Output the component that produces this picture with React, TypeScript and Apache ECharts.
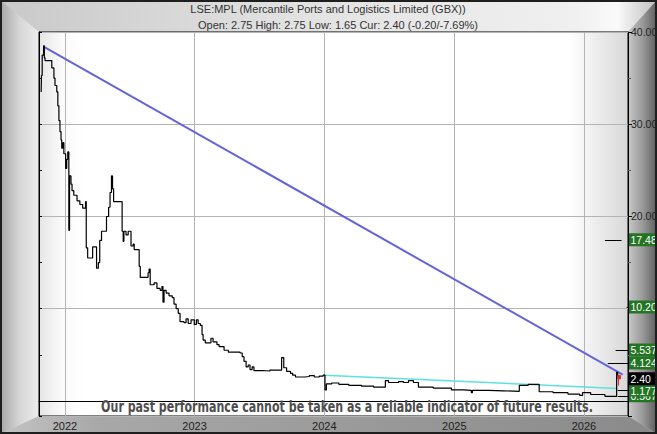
import React, { useEffect, useRef } from 'react';
import * as echarts from 'echarts';

// ---------- data ----------
const priceDates = [
  '2021-10-26', '2021-10-27', '2021-10-29', '2021-11-02', '2021-11-04', '2021-11-06', '2021-11-25',
  '2021-12-01', '2021-12-04', '2021-12-09', '2021-12-12', '2021-12-15', '2021-12-18', '2021-12-21',
  '2021-12-23', '2021-12-26', '2021-12-29', '2022-01-03', '2022-01-06', '2022-01-09', '2022-01-12',
  '2022-01-14', '2022-01-18', '2022-01-21', '2022-01-26', '2022-02-04', '2022-02-12', '2022-02-20',
  '2022-02-28', '2022-03-02', '2022-03-06', '2022-03-20', '2022-03-31', '2022-04-05', '2022-04-09',
  '2022-04-14', '2022-04-28', '2022-05-04', '2022-05-08', '2022-05-12', '2022-05-15', '2022-05-18',
  '2022-06-11', '2022-06-14', '2022-06-16', '2022-06-22', '2022-06-28', '2022-07-06', '2022-07-12',
  '2022-07-15', '2022-07-29', '2022-08-01', '2022-08-23', '2022-08-26', '2022-08-29', '2022-09-09',
  '2022-09-17', '2022-09-26', '2022-10-01', '2022-10-04', '2022-10-07', '2022-10-13', '2022-10-21',
  '2022-10-30', '2022-11-04', '2022-11-10', '2022-11-16', '2022-11-21', '2022-12-02', '2022-12-08',
  '2022-12-14', '2022-12-22', '2022-12-31', '2023-01-06', '2023-01-11', '2023-01-17', '2023-01-22',
  '2023-01-25', '2023-01-31', '2023-02-16', '2023-02-22', '2023-03-05', '2023-03-11', '2023-03-25',
  '2023-04-06', '2023-05-09', '2023-05-15', '2023-05-20', '2023-05-26', '2023-06-01', '2023-06-06',
  '2023-06-12', '2023-06-17', '2023-07-10', '2023-08-01', '2023-09-03', '2023-09-09', '2023-09-17',
  '2023-09-28', '2023-10-04', '2023-10-12', '2023-11-07', '2023-11-20', '2023-12-04', '2023-12-18',
  '2023-12-29', '2024-01-03', '2024-01-07', '2024-01-22', '2024-02-11', '2024-03-10', '2024-04-15',
  '2024-05-19', '2024-06-21', '2024-06-30', '2024-07-28', '2024-08-11', '2024-08-25', '2024-09-08',
  '2024-09-22', '2024-11-03', '2024-12-24', '2025-01-27', '2025-02-18', '2025-02-21', '2025-04-07',
  '2025-05-19', '2025-07-03', '2025-07-28', '2025-08-28', '2025-10-06', '2025-11-17', '2025-12-20',
  '2025-12-28', '2026-01-20', '2026-03-01', '2026-04-03', '2026-04-06', '2026-04-09',
];
const priceValues = [
  33.5, 35.3, 37.5, 38.5, 37.2, 36.9, 36.1,
  35.0, 34.2, 33.5, 32.0, 30.4, 29.2, 28.3,
  27.4, 28.0, 26.8, 25.2, 26.2, 27.0, 18.5,
  24.4, 23.5, 22.8, 22.3, 21.7, 21.3, 20.9,
  21.6, 16.6, 15.5, 16.7, 14.4, 15.0, 17.4,
  18.4, 20.0, 21.0, 22.6, 24.4, 23.0, 21.6,
  18.4, 17.3, 18.4, 18.0, 18.4, 16.8, 17.0,
  16.4, 14.6, 13.4, 13.9, 14.3, 12.6, 12.8,
  12.2, 12.0, 12.4, 10.7, 12.0, 11.7, 11.4,
  11.2, 10.5, 10.0, 9.5, 8.6, 8.5, 8.9,
  8.4, 8.8, 8.3, 8.8, 8.4, 8.2, 7.2,
  6.6, 6.3, 6.8, 6.4, 6.1, 5.9, 5.5,
  5.3, 5.2, 4.8, 4.3, 3.7, 3.9, 3.4,
  3.7, 3.3, 3.25, 3.35, 4.7, 3.6, 3.2,
  3.0, 2.8, 2.6, 2.65, 2.75, 2.6, 2.7,
  2.8, 1.2, 1.85, 1.95, 1.8, 1.7, 1.6,
  1.5, 2.2, 2.0, 2.1, 2.0, 2.2, 2.0,
  1.5, 1.4, 1.2, 1.15, 0.9, 1.15, 1.1,
  1.05, 1.7, 1.8, 1.0, 0.9, 0.75, 0.6,
  0.9, 0.7, 0.5, 3.1, 2.6, 2.4,
];

const trendDates = ['2021-11-03', '2026-04-20'];
const trendValues = [38.4, 2.85];
const supportDates = ['2024-01-01', '2026-04-06'];
const supportValues = [2.8, 1.35];

const candleDate = '2026-04-09';
const candleOpen = 2.75;
const candleClose = 2.4;
const candleLow = 1.65;
const candleHigh = 2.75;

const levelValues = [17.48, 10.2, 5.537, 4.124, 0.567, 1.177, 2.4];
const levelLabels = ['17.48', '10.20', '5.537', '4.124', '0.567', '1.177', '2.40'];
const levelTickStart = ['2026-03-01', '2026-05-01', '2026-03-31', '2026-03-09', '2026-04-06', '2026-04-06', ''];
const levelTickEnd = ['2026-04-17', '2026-05-15', '2026-05-05', '2026-05-05', '2026-05-05', '2026-05-05', ''];
const levelKinds = ['target', 'target', 'target', 'target', 'target', 'target', 'current'];

const yLabelValues = [20, 30, 40];
const xMin = '2021-10-20';
const xMax = '2026-05-05';
const yMin = -1.63;
const yMax = 40;

const titleLine1 = 'LSE:MPL (Mercantile Ports and Logistics Limited (GBX))';
const titleLine2 = 'Open: 2.75 High: 2.75 Low: 1.65 Cur: 2.40 (-0.20/-7.69%)';
const disclaimer = 'Our past performance cannot be taken as a reliable indicator of future results.';

const FONT = '"Liberation Sans", Arial, sans-serif';
const ts = (d: string) => new Date(d + 'T00:00:00').getTime();

export default function App() {
  const ref = useRef<HTMLDivElement>(null);

  useEffect(() => {
    if (!ref.current) return;
    const chart = echarts.init(ref.current, undefined, { renderer: 'svg' });
    const W = 657, H = 434, L = 39, T = 32, R = 628, B = 416;

    const lin = (x1: number, y1: number, x2: number, y2: number, stops: [number, string][]) =>
      new echarts.graphic.LinearGradient(x1, y1, x2, y2, stops.map(([offset, color]) => ({ offset, color })));

    const option: any = {
      animation: false,
      backgroundColor: '#cfcfcf',
      graphic: [
        { type: 'polygon', z: -100, silent: true, shape: { points: [[0, 0], [W, 0], [R, T], [L, T]] },
          style: { fill: lin(0, 0, 1, 0, [[0, '#c9c9c9'], [0.45, '#e2e2e2'], [0.88, '#f0f0f0'], [0.94, '#fafafa'], [1, '#bdbdbd']]) } },
        { type: 'polygon', z: -100, silent: true, shape: { points: [[0, 0], [L, T], [L, B], [0, H]] },
          style: { fill: lin(0, 0, 1, 0, [[0, '#a6a6a6'], [0.5, '#d6d6d6'], [1, '#ececec']]) } },
        { type: 'polygon', z: -100, silent: true, shape: { points: [[W, 0], [W, H], [R, B], [R, T]] },
          style: { fill: lin(0, 0, 1, 0, [[0, '#c8c8c8'], [0.5, '#9a9a9a'], [1, '#5c5c5c']]) } },
        { type: 'polygon', z: -100, silent: true, shape: { points: [[0, H], [L, B], [R, B], [W, H]] },
          style: { fill: lin(0, 0, 1, 0, [[0, '#c4c4c4'], [0.15, '#a8a8a8'], [1, '#8a8a8a']]) } },
        { type: 'rect', z: 100, silent: true, shape: { x: 1, y: 1, width: W - 2, height: H - 2 },
          style: { fill: 'none', stroke: '#1e1e1e', lineWidth: 2 } },
        { type: 'text', z: 100, silent: true, x: 328, y: 9,
          style: { text: titleLine1, font: '11px ' + FONT, fill: '#333', textAlign: 'center', textVerticalAlign: 'middle', verticalAlign: 'middle' } },
        { type: 'text', z: 100, silent: true, x: 338, y: 25,
          style: { text: titleLine2, font: '11px ' + FONT, fill: '#333', textAlign: 'center', textVerticalAlign: 'middle', verticalAlign: 'middle' } },
        { type: 'text', z: 100, silent: true, x: 347, y: 407, scaleX: 0.82,
          style: { text: disclaimer, font: 'bold 15px "Liberation Sans Narrow", "Arial Narrow", "DejaVu Sans Condensed", sans-serif',
            fill: '#4e4e4e', textAlign: 'center', textVerticalAlign: 'middle', verticalAlign: 'middle' } },
      ],
      grid: {
        left: L, top: T, right: W - R, bottom: H - B,
        show: true,
        borderColor: '#000',
        borderWidth: 1,
        backgroundColor: lin(0, 0, 1, 0, [[0, '#e6e6e6'], [0.04, '#fbfbfb'], [0.08, '#ffffff'], [0.9, '#ffffff'], [1, '#d8d8d8']]),
        containLabel: false,
        outerBoundsMode: 'none',
      },
      xAxis: {
        type: 'time',
        min: ts(xMin),
        max: ts(xMax),
        splitNumber: 4,
        minInterval: 365 * 86400000,
        axisLine: { show: true, lineStyle: { color: '#000', width: 1 } },
        axisTick: { show: false },
        splitLine: { show: true, lineStyle: { color: '#b4b4b4', width: 1 } },
        axisLabel: {
          color: '#222', fontSize: 11, fontFamily: FONT, margin: 4,
          formatter: (v: number) => String(new Date(v).getFullYear()),
        },
      },
      yAxis: [
        {
          type: 'value',
          position: 'right',
          min: yMin,
          max: yMax,
          splitNumber: 4,
          axisLine: { show: true, lineStyle: { color: '#000' } },
          axisTick: { show: true, length: 4, lineStyle: { color: '#000' } },
          minorTick: { show: true, splitNumber: 2, length: 3, lineStyle: { color: '#555' } },
          splitLine: { show: true, lineStyle: { color: '#b4b4b4', width: 1 } },
          axisLabel: {
            color: '#222', fontSize: 10.5, fontFamily: FONT, margin: 3, showMinLabel: false,
            formatter: (v: number) => (yLabelValues.indexOf(v) >= 0 ? v.toFixed(2) : ''),
          },
        },
        {
          type: 'value',
          position: 'left',
          min: yMin,
          max: yMax,
          splitNumber: 8,
          axisLine: { show: true, lineStyle: { color: '#000' } },
          axisTick: { show: true, inside: true, length: 3, lineStyle: { color: '#000' } },
          splitLine: { show: false },
          axisLabel: { show: false },
        },
      ],
      series: [
        {
          name: 'price',
          type: 'line',
          step: 'end',
          yAxisIndex: 0,
          symbol: 'none',
          lineStyle: { color: '#000', width: 1.2 },
          data: priceDates.map((d, i) => [ts(d), priceValues[i]]),
          z: 4,
        },
        {
          name: 'trend',
          type: 'line',
          yAxisIndex: 0,
          symbol: 'none',
          lineStyle: { color: '#6464d8', width: 2 },
          data: trendDates.map((d, i) => [ts(d), trendValues[i]]),
          z: 3,
        },
        {
          name: 'support',
          type: 'line',
          yAxisIndex: 0,
          symbol: 'none',
          lineStyle: { color: '#5fe0e0', width: 1.5 },
          data: supportDates.map((d, i) => [ts(d), supportValues[i]]),
          z: 3,
        },
        {
          name: 'last',
          type: 'candlestick',
          yAxisIndex: 0,
          barWidth: 3,
          itemStyle: { color: '#d23030', color0: '#d23030', borderColor: '#d23030', borderColor0: '#d23030', borderWidth: 1 },
          data: [[ts(candleDate), candleOpen, candleClose, candleLow, candleHigh]],
          z: 5,
        },
        {
          name: 'levels',
          type: 'custom',
          yAxisIndex: 0,
          clip: false,
          silent: true,
          z: 20,
          encode: { x: 0, y: 1 },
          data: levelValues.map((v, i) => [ts(xMax), v, i]),
          renderItem: (params: any, api: any) => {
            const i = api.value(2);
            const v = api.value(1);
            const pt = api.coord([api.value(0), v]);
            const cs = params.coordSys;
            const right = cs.x + cs.width;
            const children: any[] = [];
            if (levelTickStart[i]) {
              const a = api.coord([ts(levelTickStart[i]), v]);
              const b = api.coord([ts(levelTickEnd[i]), v]);
              children.push({ type: 'line', shape: { x1: a[0], y1: Math.round(a[1]) + 0.5, x2: b[0], y2: Math.round(b[1]) + 0.5 },
                style: { stroke: '#000', lineWidth: 1 } });
            }
            const isCur = levelKinds[i] === 'current';
            children.push({ type: 'rect', shape: { x: right + 1, y: pt[1] - 6.5, width: 40, height: 13 },
              style: { fill: isCur ? '#000' : '#237523' } });
            children.push({ type: 'text', x: right + 2.5, y: pt[1] + 0.5,
              style: { text: levelLabels[i], fill: '#fff', font: '10.5px ' + FONT, textAlign: 'left', textVerticalAlign: 'middle', verticalAlign: 'middle' } });
            return { type: 'group', children };
          },
        },
      ],
    };

    chart.setOption(option);
    return () => chart.dispose();
  }, []);

  return (
    <div
      ref={ref}
      style={{ position: 'fixed', left: 0, top: 0, width: 657, height: 434 }}
    />
  );
}
